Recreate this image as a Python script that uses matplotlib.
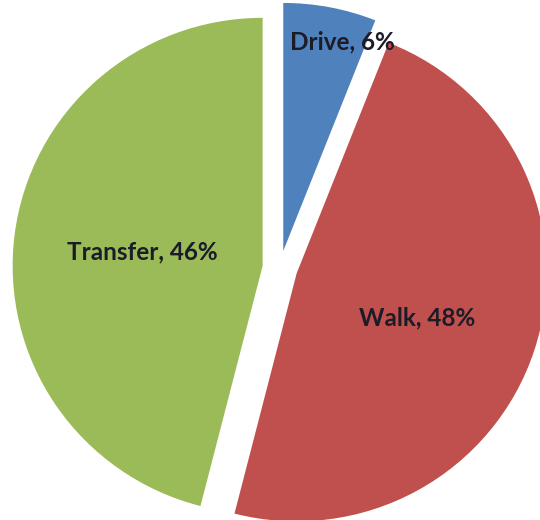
import matplotlib.pyplot as plt

# commute mode split
modes = ["Drive", "Walk", "Transfer"]
shares = [6, 48, 46]
colors = ["#4F81BD", "#C0504D", "#9BBB59"]

# label anchor points (pie units, centre at 0,0)
label_pos = [(0.25, 0.91), (0.55, -0.20), (-0.55, 0.065)]

fig = plt.figure(figsize=(5.4, 5.2), dpi=100)
ax = fig.add_axes([0, 0, 1, 1])

wedges, _ = ax.pie(shares, colors=colors, startangle=90, counterclock=False,
                   explode=[0.07] * len(shares), radius=1.0,
                   wedgeprops=dict(linewidth=0))

for name, val, (x, y) in zip(modes, shares, label_pos):
    ax.text(x, y, f"{name}, {val}%", ha="center", va="center",
            fontsize=17.5, fontweight="bold", family="Lato", color="#1c1c28")

# slightly squashed vertically like the original export
ax.set_aspect("auto")
ax.set_xlim(-280 / 250, 260 / 250)
ax.set_ylim(-252 / 248, 268 / 248)
ax.axis("off")

fig.savefig("out.png", dpi=100, facecolor="white")
